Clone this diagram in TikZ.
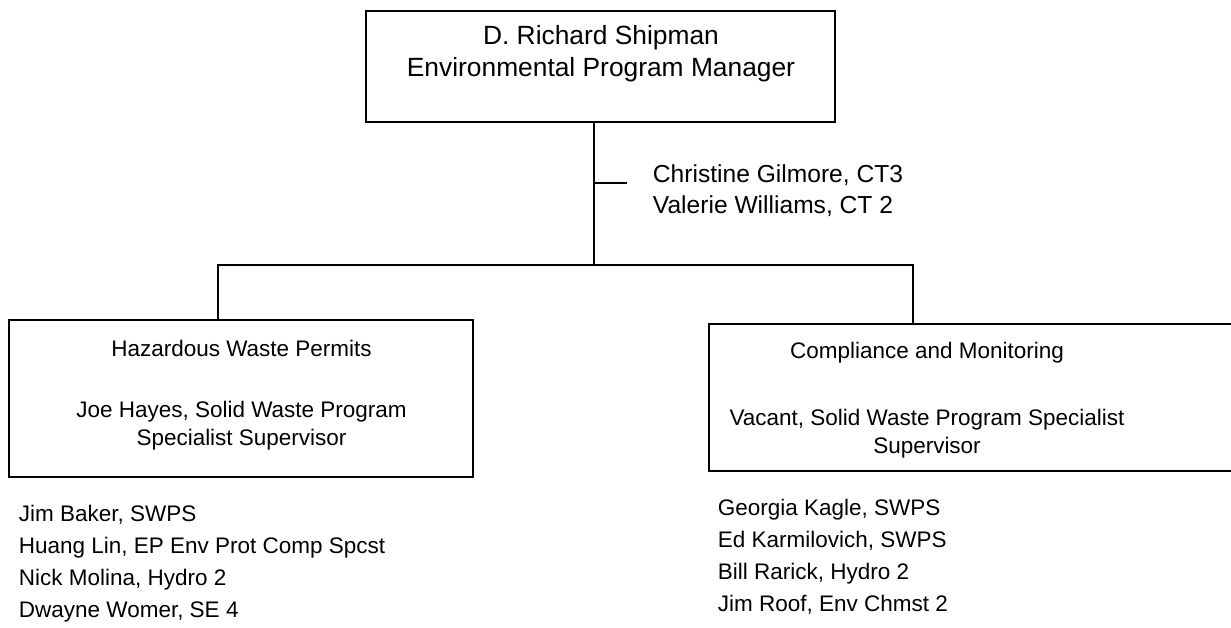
\documentclass[tikz,border=0pt]{standalone}
\usepackage{fontspec}
\setmainfont{Liberation Sans}
\usetikzlibrary{positioning,calc}

\begin{document}
\begin{tikzpicture}[x=0.02cm, y=-0.02cm, line width=1.1pt,
    every node/.style={inner sep=0pt},
    orgbox/.style={draw, line width=1.1pt, rectangle},
    boxtext/.style={align=center, font=\fontsize{12.8}{16}\selectfont},
    staff/.style={anchor=west, align=left, font=\fontsize{12.8}{18.2}\selectfont}]
  \useasboundingbox (0,0) rectangle (1231,627);
  % manager
  \node[orgbox, minimum width=469*0.02cm, minimum height=111*0.02cm] (mgr) at (600.5,66.5) {};
  \node[align=center, font=\fontsize{15}{18.2}\selectfont] (mgrtxt) at (601,54) {D. Richard Shipman\\Environmental Program Manager};
  \coordinate (trunk) at (594,265);
  \coordinate (tick) at (627,183);
  \draw (mgr.south -| trunk) -- (trunk);
  \draw (tick -| trunk) -- (tick);
  \node[staff, font=\fontsize{14}{17.6}\selectfont] (clerks) at (652,190.5) {Christine Gilmore, CT3\\Valerie Williams, CT 2};
  % sections
  \node[orgbox, minimum width=464*0.02cm, minimum height=157*0.02cm] (haz) at (241,398.5) {};
  \node[boxtext] (haztxt) at (241.5,395) {Hazardous Waste Permits\\[19pt]Joe Hayes, Solid Waste Program\\Specialist Supervisor};
  \node[orgbox, minimum width=540*0.02cm, minimum height=147*0.02cm] (comp) at (979,397.5) {};
  \node[boxtext] (comptxt) at (927,400) {Compliance and Monitoring\\[22pt]Vacant, Solid Waste Program Specialist\\Supervisor};
  \coordinate (busL) at (218,265);
  \coordinate (busR) at (913,265);
  \draw (haz.north -| busL) -- (busL) -- (busR) -- (comp.north -| busR);
  % staff lists
  \node[staff] (hazstaff) at (18,564) {Jim Baker, SWPS\\Huang Lin, EP Env Prot Comp Spcst\\Nick Molina, Hydro 2\\Dwayne Womer, SE 4};
  \node[staff] (compstaff) at (717,557) {Georgia Kagle, SWPS\\Ed Karmilovich, SWPS\\Bill Rarick, Hydro 2\\Jim Roof, Env Chmst 2};
\end{tikzpicture}
\end{document}
